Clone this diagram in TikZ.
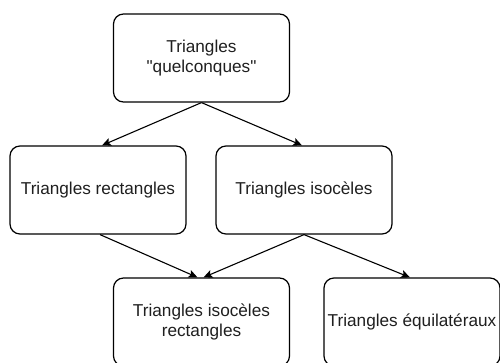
\documentclass[tikz,border=0pt]{standalone}
\usepackage{fontspec}
\setmainfont{Liberation Sans}[Ligatures=TeXOff]
\usetikzlibrary{arrows.meta}
\begin{document}
\begin{tikzpicture}[x=1pt,y=1pt,
  box/.style={draw=black, line width=1.2pt, rounded corners=10pt, minimum width=176pt, minimum height=88pt, inner sep=0pt, align=center, font=\fontsize{17.2}{20}\selectfont, text=black!88},
  arr/.style={draw=black, line width=1.1pt, -{Stealth[length=9pt,width=8pt,inset=2pt]}}]
\useasboundingbox (0,0) rectangle (500,-362);
\node[box] (top) at (201.5,-58) {Triangles\\"quelconques"};
\node[box] (left) at (98,-190) {Triangles rectangles};
\node[box] (right) at (304,-190) {Triangles isocèles};
\node[box] (bl) at (201.5,-322) {Triangles isocèles\\rectangles};
\node[box] (br) at (412,-322) {Triangles équilatéraux};
\draw[arr] (top.south) -- ([xshift=4pt]left.north);
\draw[arr] (top.south) -- ([xshift=-2pt]right.north);
\draw[arr] ([xshift=2pt]left.south) -- ([xshift=-4pt]bl.north);
\draw[arr] (right.south) -- ([xshift=2pt]bl.north);
\draw[arr] (right.south) -- ([xshift=-2pt]br.north);
\end{tikzpicture}
\end{document}
